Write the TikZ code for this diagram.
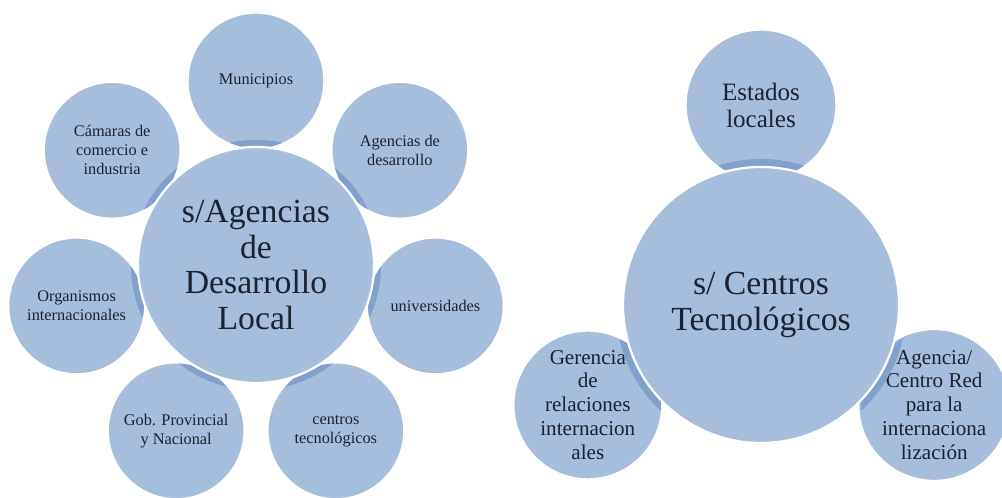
\documentclass[tikz,border=0pt]{standalone}
\usepackage{fontspec}
\setmainfont{LiberationSerif}[Extension=.ttf, UprightFont=*-Regular, BoldFont=*-Bold]
\usepackage[rgb]{xcolor}
\definecolor{bubble}{HTML}{A7BDDC}
\definecolor{bubbledark}{HTML}{81A0CD}
\definecolor{ink}{HTML}{1B2230}
\usepackage{tikz}
\usetikzlibrary{calc}

\begin{document}
\begin{tikzpicture}[hub/.style={circle, fill=bubble, draw=white, line width=1.6pt, inner sep=0pt, align=center, text=ink, font=\rmfamily\fontsize{24}{25.6}\selectfont},
	sat/.style={circle, fill=bubble, draw=white, line width=1pt, inner sep=0pt, align=center, text=ink, minimum size=3.4cm, font=\rmfamily\fontsize{11.6}{13.5}\selectfont},
	ring/.style={fill=bubbledark}]
	\useasboundingbox (0,0) rectangle (25.05,12.45);
	% left: s/Agencias de Desarrollo Local
	\coordinate (adl-c) at (6.4,5.825);
	\node[sat] at (6.4,10.425) (mun) {Municipios};
	\node[sat] at (9.996,8.693) (agd) {Agencias de\\desarrollo};
	\node[sat] at (10.885,4.801) (uni) {universidades};
	\node[sat] at (8.396,1.68) (cen) {centros\\tecnológicos};
	\node[sat] at (4.404,1.68) (gob) {Gob. Provincial\\y Nacional};
	\node[sat] at (1.915,4.801) (org) {Organismos\\internacionales};
	\node[sat] at (2.804,8.693) (cam) {Cámaras de\\comercio e\\industria};

	\begin{scope}\clip (mun.center) circle (1.68); \fill[ring] ($(adl-c)!0.18cm!(mun.center)$) circle (2.95);\end{scope}
	\begin{scope}\clip (agd.center) circle (1.68); \fill[ring] ($(adl-c)!0.18cm!(agd.center)$) circle (2.95);\end{scope}
	\begin{scope}\clip (uni.center) circle (1.68); \fill[ring] ($(adl-c)!0.18cm!(uni.center)$) circle (2.95);\end{scope}
	\begin{scope}\clip (cen.center) circle (1.68); \fill[ring] ($(adl-c)!0.18cm!(cen.center)$) circle (2.95);\end{scope}
	\begin{scope}\clip (gob.center) circle (1.68); \fill[ring] ($(adl-c)!0.18cm!(gob.center)$) circle (2.95);\end{scope}
	\begin{scope}\clip (org.center) circle (1.68); \fill[ring] ($(adl-c)!0.18cm!(org.center)$) circle (2.95);\end{scope}
	\begin{scope}\clip (cam.center) circle (1.68); \fill[ring] ($(adl-c)!0.18cm!(cam.center)$) circle (2.95);\end{scope}

	\node[hub, minimum size=5.9cm] at (adl-c) (adl) {s/Agencias\\de\\Desarrollo\\Local};

	% right: s/ Centros Tecnologicos
	\coordinate (ct-c) at (19.025,4.825);
	\node[sat, minimum size=3.75cm, font=\rmfamily\fontsize{17.8}{19.2}\selectfont] at (19.025,9.825) (est) {Estados\\locales};
	\node[sat, minimum size=3.7cm, font=\rmfamily\fontsize{15}{17}\selectfont] at (14.695,2.325) (ger) {Gerencia\\de\\relaciones\\internacion\\ales};
	\node[sat, minimum size=3.7cm, font=\rmfamily\fontsize{15}{17}\selectfont] at (23.355,2.325) (agc) {Agencia/\\Centro Red\\para la\\internaciona\\lización};

	\begin{scope}\clip (est.center) circle (1.86); \fill[ring] ($(ct-c)!0.2cm!(est.center)$) circle (3.45);\end{scope}
	\begin{scope}\clip (ger.center) circle (1.83); \fill[ring] ($(ct-c)!0.2cm!(ger.center)$) circle (3.45);\end{scope}
	\begin{scope}\clip (agc.center) circle (1.83); \fill[ring] ($(ct-c)!0.2cm!(agc.center)$) circle (3.45);\end{scope}

	\node[hub, minimum size=6.9cm] at (ct-c) (ct) {s/ Centros\\Tecnológicos};
\end{tikzpicture}
\end{document}
